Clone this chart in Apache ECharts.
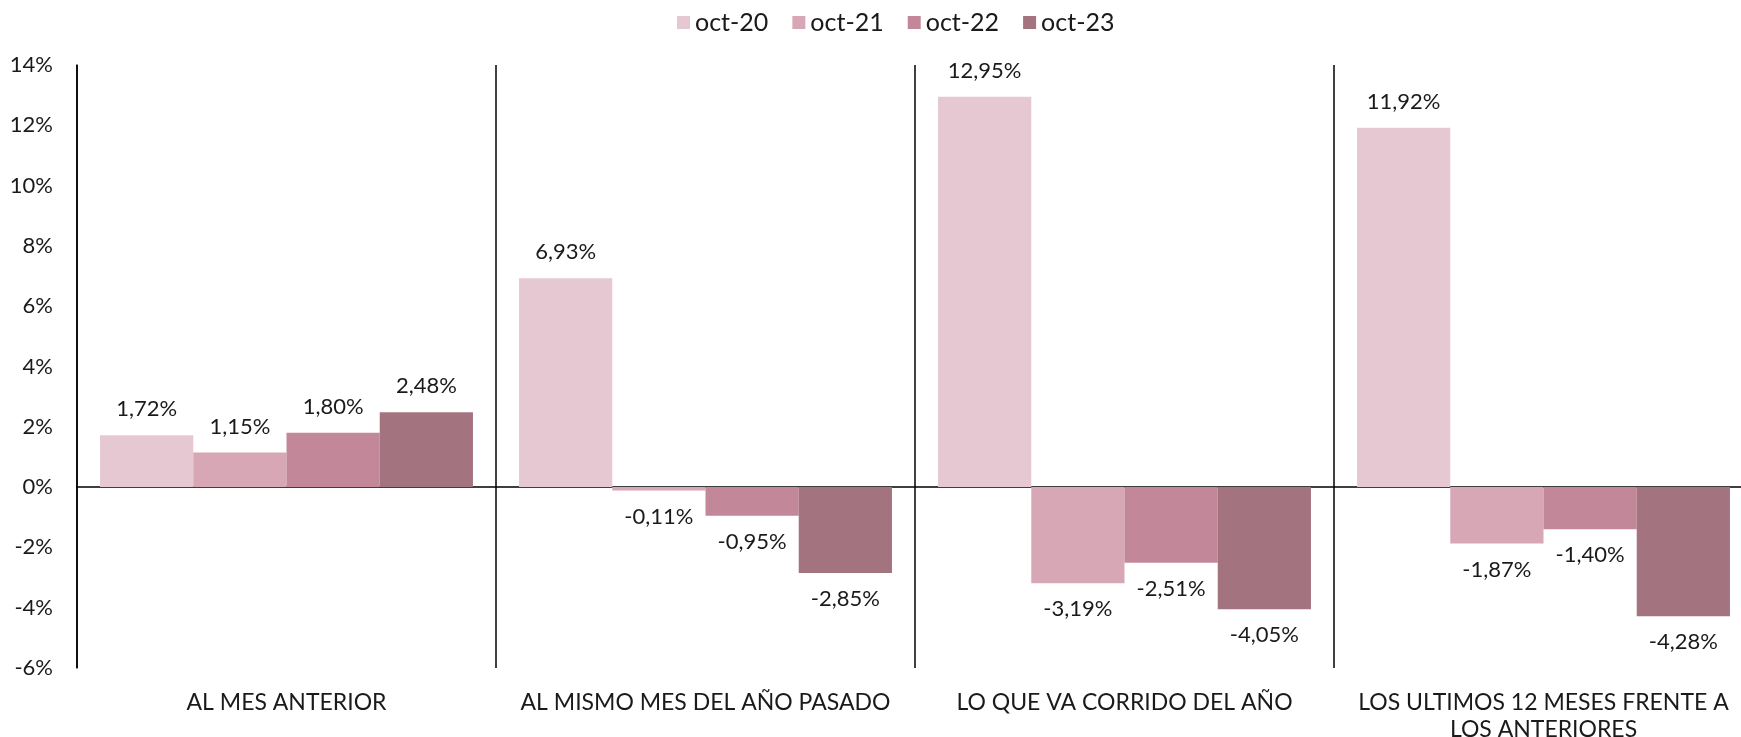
<!DOCTYPE html>
<html>
<head>
<meta charset="utf-8">
<script src="https://cdn.jsdelivr.net/npm/echarts@6/dist/echarts.min.js"></script>
<style>
  html, body { margin: 0; padding: 0; background: #fff; }
  #main { width: 1741px; height: 737px; }
</style>
</head>
<body>
<div id="main"></div>
<script>
// categorias y series
var categories = [
    'AL MES ANTERIOR',
    'AL MISMO MES DEL AÑO PASADO',
    'LO QUE VA CORRIDO DEL AÑO',
    'LOS ULTIMOS 12 MESES FRENTE A\nLOS ANTERIORES'
];
var seriesNames = ['oct-20', 'oct-21', 'oct-22', 'oct-23'];
var oct20 = [1.72, 6.93, 12.95, 11.92];
var oct21 = [1.15, -0.11, -3.19, -1.87];
var oct22 = [1.80, -0.95, -2.51, -1.40];
var oct23 = [2.48, -2.85, -4.05, -4.28];
var colors = ['#E6C8D2', '#D8A7B6', '#C2889A', '#A3737F'];

var FONT = 'Lato';

function fmt(v) {
    return v.toFixed(2).replace('.', ',') + '%';
}

function makeSeries(name, values, color) {
    return {
        name: name,
        type: 'bar',
        barGap: '0%',
        barCategoryGap: '11%',
        itemStyle: { color: color },
        data: values.map(function (v) {
            return {
                value: v,
                label: { position: v < 0 ? 'bottom' : 'top' }
            };
        }),
        label: {
            show: true,
            distance: 15,
            fontFamily: FONT,
            fontSize: 22,
            color: '#1a1a1a',
            formatter: function (p) { return fmt(p.value); }
        }
    };
}

var myChart = echarts.init(document.getElementById('main'));
var option = {
    backgroundColor: '#fff',
    animation: false,
    legend: {
        top: 5,
        left: 672,
        itemWidth: 13,
        itemHeight: 13,
        itemGap: 24,
        icon: 'rect',
        textStyle: { fontFamily: FONT, fontSize: 25, color: '#1a1a1a' },
        data: seriesNames
    },
    grid: {
        left: 77,
        top: 65,
        width: 1676,
        height: 603,
        containLabel: false,
        outerBoundsMode: 'none'
    },
    xAxis: {
        type: 'category',
        data: categories,
        axisLine: { lineStyle: { color: '#000', width: 1.5 } },
        axisTick: { show: false },
        splitLine: { show: true, interval: 0, lineStyle: { color: '#000', width: 1.5 } },
        axisLabel: {
            interval: 0,
            fontFamily: FONT,
            fontSize: 23,
            color: '#1a1a1a',
            lineHeight: 27,
            margin: 21
        }
    },
    yAxis: {
        type: 'value',
        min: -6,
        max: 14,
        interval: 2,
        axisLine: { show: true, onZero: false, lineStyle: { color: '#000', width: 1.5 } },
        axisTick: { show: false },
        splitLine: { show: false },
        axisLabel: {
            fontFamily: FONT,
            fontSize: 22,
            color: '#1a1a1a',
            margin: 24,
            formatter: function (v) { return v + '%'; }
        }
    },
    series: [
        makeSeries(seriesNames[0], oct20, colors[0]),
        makeSeries(seriesNames[1], oct21, colors[1]),
        makeSeries(seriesNames[2], oct22, colors[2]),
        makeSeries(seriesNames[3], oct23, colors[3])
    ]
};
myChart.setOption(option);

window.onresize = function () {
    myChart.resize();
};
</script>
</body>
</html>
